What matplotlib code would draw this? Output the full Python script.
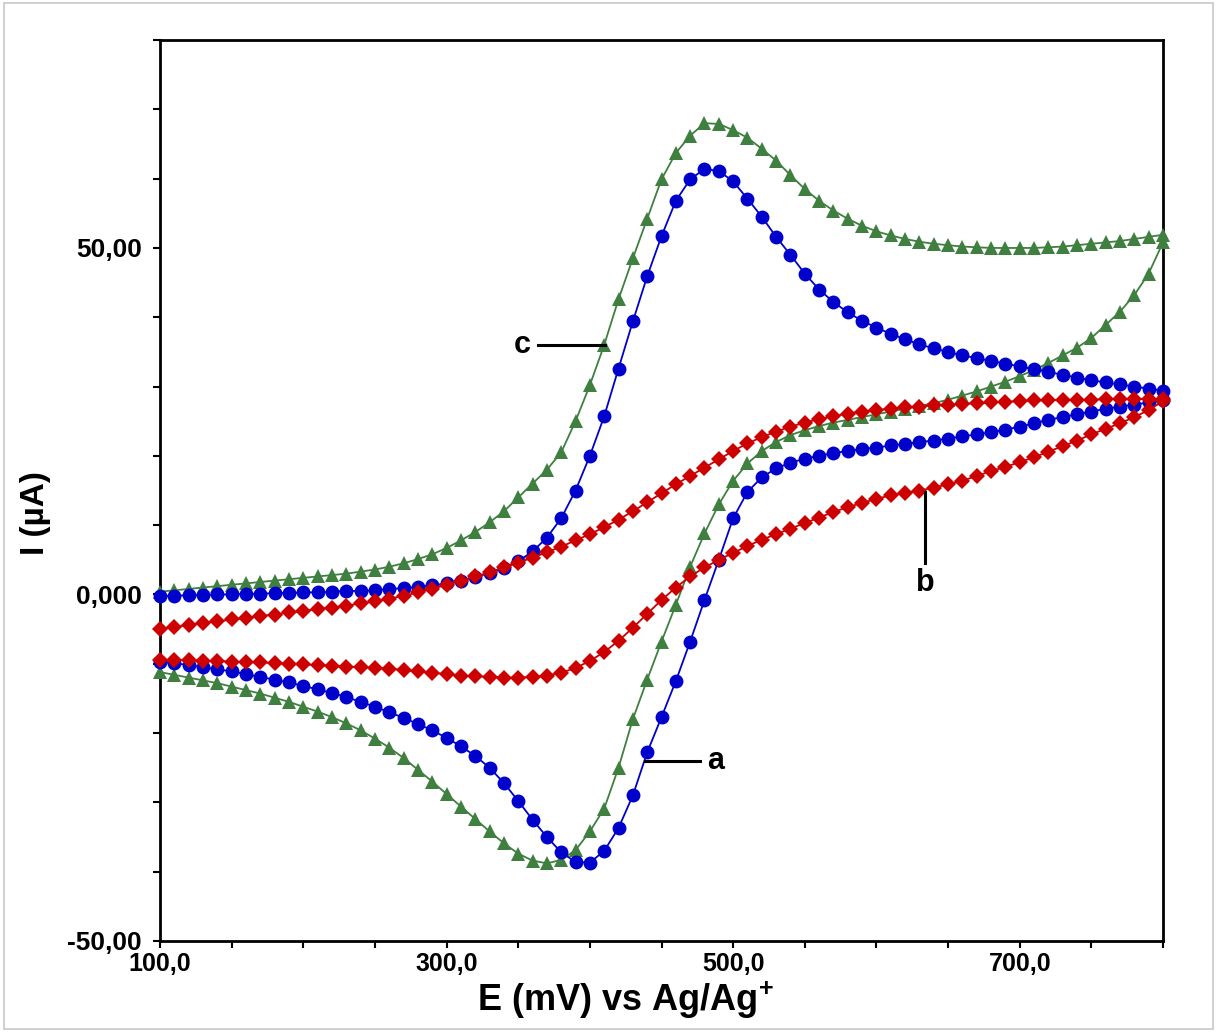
import matplotlib.pyplot as plt
from matplotlib.patches import Rectangle
from matplotlib.ticker import MultipleLocator, FixedLocator, FixedFormatter

plt.rcParams['font.family'] = ['Liberation Sans', 'DejaVu Sans']
plt.rcParams['mathtext.fontset'] = 'custom'
plt.rcParams['mathtext.rm'] = 'Liberation Sans:bold'
plt.rcParams['mathtext.bf'] = 'Liberation Sans:bold'

# potential sweep (mV), forward 100 -> 800 then back 800 -> 100
e_fwd = list(range(100, 801, 10))
e_rev = list(range(800, 99, -10))

# curve a (blue)
a_fwd = [-0.2, -0.2, -0.1, -0.1, 0.0, 0.0, 0.1, 0.1, 0.2, 0.2,
         0.3, 0.3, 0.4, 0.5, 0.5, 0.6, 0.8, 0.9, 1.1, 1.3,
         1.6, 2.0, 2.5, 3.1, 3.8, 4.8, 6.2, 8.2, 11.0, 15.0,
         20.0, 25.7, 32.6, 39.4, 45.9, 51.7, 56.8, 59.9, 61.4, 61.1,
         59.6, 57.1, 54.5, 51.6, 49.0, 46.3, 44.0, 42.2, 40.7, 39.5,
         38.5, 37.6, 36.8, 36.1, 35.5, 35.0, 34.5, 34.1, 33.7, 33.3,
         32.9, 32.5, 32.1, 31.7, 31.3, 30.9, 30.6, 30.3, 30.0, 29.7, 29.4]
a_rev = [28.0, 27.7, 27.4, 27.1, 26.8, 26.4, 26.0, 25.6, 25.2, 24.7,
         24.2, 23.8, 23.4, 23.1, 22.8, 22.5, 22.2, 22.0, 21.7, 21.5,
         21.2, 21.0, 20.7, 20.4, 20.0, 19.6, 19.0, 18.2, 16.9, 14.8,
         11.0, 5.0, -0.8, -6.8, -12.5, -17.7, -22.8, -29.0, -33.7, -37.0,
         -38.7, -38.6, -37.2, -35.0, -32.5, -29.8, -27.2, -25.0, -23.3, -21.9,
         -20.7, -19.6, -18.7, -17.8, -17.0, -16.2, -15.5, -14.8, -14.2, -13.7,
         -13.2, -12.7, -12.3, -11.9, -11.5, -11.1, -10.8, -10.5, -10.2, -9.9, -9.7]

# curve b (red)
b_fwd = [-5.0, -4.7, -4.4, -4.1, -3.9, -3.6, -3.4, -3.1, -2.9, -2.6,
         -2.4, -2.1, -1.9, -1.6, -1.3, -1.0, -0.6, -0.2, 0.3, 0.8,
         1.4, 2.0, 2.6, 3.2, 3.9, 4.6, 5.3, 6.1, 6.9, 7.8,
         8.7, 9.7, 10.8, 12.0, 13.3, 14.6, 15.9, 17.1, 18.3, 19.5,
         20.7, 21.8, 22.7, 23.5, 24.2, 24.8, 25.3, 25.7, 26.1, 26.4,
         26.6, 26.8, 27.0, 27.1, 27.3, 27.4, 27.5, 27.6, 27.7, 27.8,
         27.9, 28.0, 28.0, 28.1, 28.1, 28.1, 28.2, 28.2, 28.2, 28.2, 28.2]
b_rev = [27.9, 26.6, 25.6, 24.7, 23.9, 23.1, 22.2, 21.4, 20.6, 19.8,
         19.1, 18.4, 17.8, 17.1, 16.4, 15.9, 15.4, 15.0, 14.6, 14.3,
         13.8, 13.2, 12.6, 11.9, 11.1, 10.3, 9.5, 8.7, 7.9, 7.0,
         6.0, 5.0, 3.9, 2.6, 1.0, -0.8, -2.8, -4.8, -6.7, -8.3,
         -9.6, -10.6, -11.3, -11.7, -11.9, -12.0, -12.0, -11.9, -11.8, -11.7,
         -11.5, -11.3, -11.1, -10.9, -10.7, -10.6, -10.5, -10.4, -10.3, -10.2,
         -10.1, -10.0, -9.9, -9.8, -9.8, -9.7, -9.6, -9.6, -9.5, -9.5, -9.4]

# curve c (green)
c_fwd = [0.4, 0.6, 0.8, 1.0, 1.2, 1.4, 1.6, 1.8, 2.0, 2.2,
         2.4, 2.6, 2.8, 3.0, 3.3, 3.6, 4.0, 4.5, 5.1, 5.8,
         6.7, 7.8, 9.0, 10.4, 12.0, 14.0, 16.0, 18.0, 20.5, 25.0,
         30.2, 36.0, 42.6, 48.5, 54.2, 59.9, 63.7, 66.2, 68.0, 67.9,
         67.0, 65.9, 64.3, 62.6, 60.5, 58.5, 56.8, 55.4, 54.2, 53.2,
         52.4, 51.8, 51.3, 50.9, 50.6, 50.4, 50.2, 50.1, 50.0, 50.0,
         50.0, 50.0, 50.1, 50.2, 50.4, 50.6, 50.8, 51.0, 51.3, 51.6, 51.9]
c_rev = [50.8, 46.3, 43.2, 40.8, 38.9, 37.0, 35.6, 34.5, 33.4, 32.4,
         31.5, 30.7, 30.0, 29.3, 28.7, 28.1, 27.6, 27.2, 26.8, 26.4,
         26.0, 25.6, 25.2, 24.8, 24.3, 23.7, 23.0, 22.0, 20.7, 18.9,
         16.4, 13.0, 8.8, 4.0, -1.5, -6.8, -12.3, -18.0, -25.0, -30.9,
         -34.2, -36.9, -38.3, -38.8, -38.4, -37.4, -35.9, -34.2, -32.4, -30.6,
         -28.8, -27.0, -25.3, -23.6, -22.1, -20.8, -19.6, -18.6, -17.7, -16.9,
         -16.2, -15.5, -14.9, -14.3, -13.8, -13.3, -12.8, -12.4, -12.0, -11.6, -11.2]

fig = plt.figure(figsize=(12.17, 10.32), dpi=100)
ax = fig.add_axes([0.1315, 0.0882, 0.8241, 0.873])

# light grey frame round the whole picture
fig.patches.append(Rectangle((0.003, 0.003), 0.994, 0.994, transform=fig.transFigure,
                             fill=False, edgecolor='#c8c8c8', linewidth=1.2))

# c under a under b
ax.plot(e_fwd + e_rev, c_fwd + c_rev, color='#3f7f3f', linewidth=1.3, marker='^',
        markersize=10.5, markeredgewidth=0, clip_on=False, zorder=3)
ax.plot(e_fwd + e_rev, a_fwd + a_rev, color='#0000cc', linewidth=1.3, marker='o',
        markersize=10, markeredgewidth=0, clip_on=False, zorder=4)
ax.plot(e_fwd + e_rev, b_fwd + b_rev, color='#cc0000', linewidth=1.3, marker='D',
        markersize=8.5, markeredgewidth=0, clip_on=False, zorder=5)

# curve labels
ax.plot([363.8, 410.5], [36.0, 36.0], color='black', linewidth=2.2, zorder=6)
ax.text(359, 36.0, 'c', fontsize=22, fontweight='bold', ha='right', va='center')
ax.plot([438.5, 476.8], [-24.1, -24.1], color='black', linewidth=2.2, zorder=6)
ax.text(482, -24.1, 'a', fontsize=22, fontweight='bold', ha='left', va='center')
ax.plot([633.8, 633.8], [14.8, 4.6], color='black', linewidth=2.2, zorder=6)
ax.text(633.8, 1.7, 'b', fontsize=22, fontweight='bold', ha='center', va='center')

ax.set_xlim(100, 800)
ax.set_ylim(-50, 80)

ax.xaxis.set_major_locator(FixedLocator([100, 300, 500, 700]))
ax.xaxis.set_major_formatter(FixedFormatter(['100,0', '300,0', '500,0', '700,0']))
ax.xaxis.set_minor_locator(MultipleLocator(50))
ax.yaxis.set_major_locator(FixedLocator([-50, 0, 50]))
ax.yaxis.set_major_formatter(FixedFormatter(['-50,00', '0,000', '50,00']))
ax.yaxis.set_minor_locator(MultipleLocator(10))

ax.tick_params(which='both', direction='out', width=1.5, top=False, right=False)
ax.tick_params(which='major', length=5)
ax.tick_params(which='minor', length=5)
ax.tick_params(axis='x', which='major', labelsize=18, pad=3)
ax.tick_params(axis='y', which='major', labelsize=19, pad=8)
for lab in ax.get_xticklabels() + ax.get_yticklabels():
    lab.set_fontweight('bold')

for sp in ax.spines.values():
    sp.set_linewidth(2)

ax.set_xlabel(r'E (mV) vs Ag/Ag$^{\mathbf{+}}$', fontsize=26, fontweight='bold', va='center')
ax.xaxis.set_label_coords(0.464, -0.066)
ax.set_ylabel('I (µA)', fontsize=24, fontweight='bold', va='center')
ax.yaxis.set_label_coords(-0.124, 0.475)

fig.savefig('out.png', dpi=100)
